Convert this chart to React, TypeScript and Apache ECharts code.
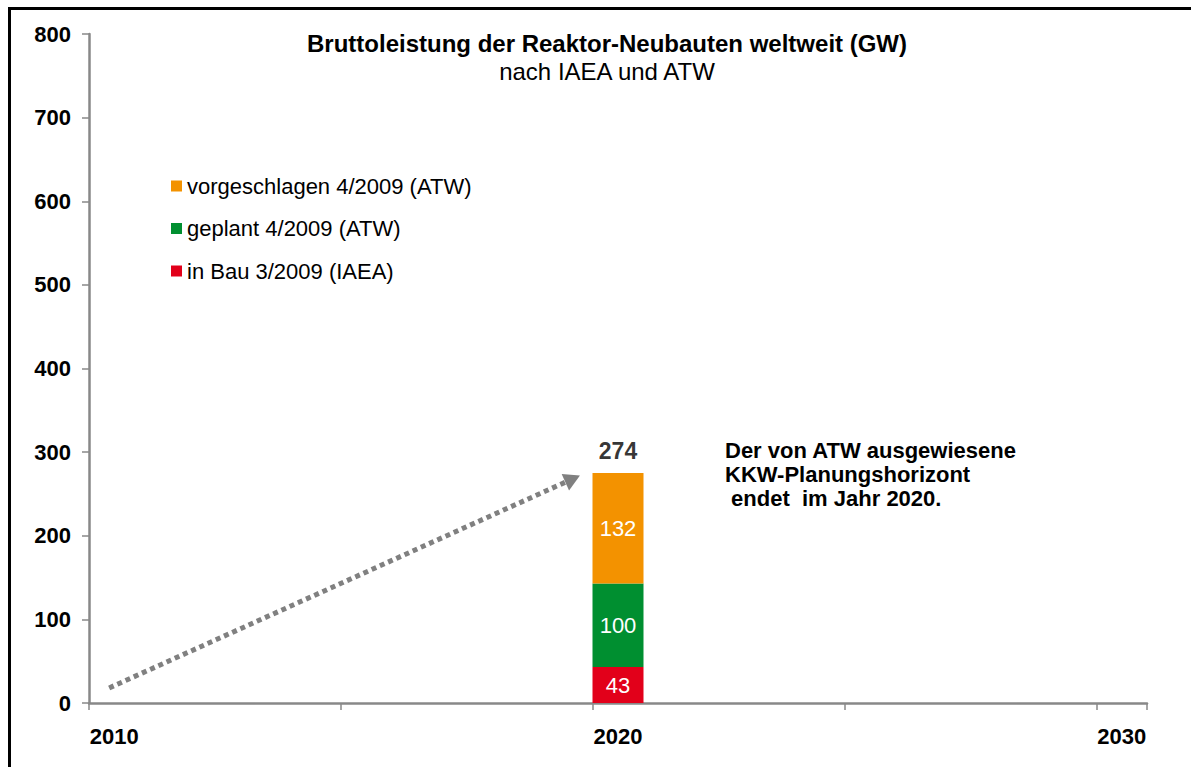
import React, { useEffect, useRef } from "react";
import * as echarts from "echarts";

const seriesNames = ["in Bau 3/2009 (IAEA)", "geplant 4/2009 (ATW)", "vorgeschlagen 4/2009 (ATW)"];
const seriesColors = ["#E2001A", "#008F30", "#F39200"];
const years = Array.from({ length: 21 }, (_, i) => String(2010 + i));
const barYear = "2020";
const inBau = [43];
const geplant = [100];
const vorgeschlagen = [132];
const totals = [274];
const trendStart = [2010.4, 18];
const trendEnd = [2019.6, 268];
const yTicks = [0, 100, 200, 300, 400, 500, 600, 700, 800];
const xLabeled = ["2010", "2020", "2030"];

const FONT = "'Liberation Sans', Arial, sans-serif";

export default function App() {
  const ref = useRef<HTMLDivElement>(null);
  useEffect(() => {
    if (!ref.current) return;
    const chart = echarts.init(ref.current, null, { renderer: "svg" });
    const mk = (vals: number[]) => years.map((y) => (y === barYear ? vals[0] : "-"));
    const segVals = [inBau, geplant, vorgeschlagen];
    const barSeries = seriesNames.map((name, k) => ({
      name,
      type: "bar",
      stack: "total",
      barWidth: 51,
      data: mk(segVals[k]),
      itemStyle: { color: seriesColors[k] },
      label: {
        show: true,
        position: "inside",
        color: "#ffffff",
        fontSize: 22,
        fontFamily: FONT,
      },
    }));
    chart.setOption({
      animation: false,
      backgroundColor: "#ffffff",
      textStyle: { fontFamily: FONT },
      grid: { left: 89, top: 34, right: 44, bottom: 64, containLabel: false },
      title: {
        text: "Bruttoleistung der Reaktor-Neubauten weltweit (GW)",
        subtext: "nach IAEA und ATW",
        left: 602,
        textAlign: "center",
        top: 26,
        itemGap: 4,
        textStyle: { fontSize: 24, fontWeight: "bold", color: "#000", fontFamily: FONT },
        subtextStyle: { fontSize: 24, color: "#000", fontFamily: FONT },
      },
      legend: {
        orient: "vertical",
        left: 166,
        top: 170,
        itemWidth: 11,
        itemHeight: 11,
        itemGap: 20.5,
        icon: "rect",
        data: [seriesNames[2], seriesNames[1], seriesNames[0]],
        textStyle: { fontSize: 22, lineHeight: 22, color: "#000", fontFamily: FONT, padding: [0, 0, 0, 0] },
      },
      xAxis: [
        {
          type: "category",
          data: years,
          boundaryGap: true,
          axisLine: { show: true, lineStyle: { color: "#888888", width: 2.5 } },
          axisTick: {
            show: true,
            length: 7,
            alignWithLabel: false,
            interval: (i: number) => i % 5 === 0,
            lineStyle: { color: "#888888", width: 1.5 },
          },
          splitLine: { show: false },
          axisLabel: {
            margin: 22,
            fontSize: 22,
            fontWeight: "bold",
            color: "#000",
            fontFamily: FONT,
            interval: 0,
            formatter: (v: string) => (xLabeled.includes(v) ? v : ""),
          },
        },
        {
          type: "value",
          min: 2010,
          max: 2031,
          show: false,
        },
      ],
      yAxis: {
        type: "value",
        min: yTicks[0],
        max: yTicks[yTicks.length - 1],
        interval: 100,
        axisLine: { show: true, lineStyle: { color: "#888888", width: 2.5 } },
        axisTick: { show: true, length: 7, lineStyle: { color: "#888888", width: 1.5 } },
        splitLine: { show: false },
        axisLabel: {
          margin: 18,
          fontSize: 22,
          fontWeight: "bold",
          color: "#000",
          fontFamily: FONT,
        },
      },
      series: [
        ...barSeries,
        {
          name: "total",
          type: "scatter",
          symbolSize: 0,
          data: years.map((y) => (y === barYear ? totals[0] : "-")),
          label: {
            show: true,
            position: "top",
            distance: 11,
            fontSize: 23,
            fontWeight: "bold",
            color: "#000",
            fontFamily: FONT,
          },
          z: 5,
        },
        {
          name: "trend",
          type: "line",
          xAxisIndex: 1,
          data: [],
          markLine: {
            silent: true,
            symbol: ["none", "triangle"],
            symbolSize: [18, 16],
            label: { show: false },
            lineStyle: { color: "#808080", width: 5, type: [5, 4] },
            data: [[{ coord: trendStart }, { coord: trendEnd }]],
          },
        },
      ],
      graphic: [
        {
          type: "rect",
          shape: { x: 9.5, y: 8.5, width: 1400, height: 900 },
          style: { fill: "none", stroke: "#000", lineWidth: 3 },
          silent: true,
        },
        {
          type: "text",
          left: 725,
          top: 438,
          style: {
            text: "Der von ATW ausgewiesene\nKKW-Planungshorizont\n endet  im Jahr 2020.",
            fontSize: 22,
            lineHeight: 24,
            fontWeight: "bold",
            fill: "#000",
            fontFamily: FONT,
          },
        },
      ],
    });
    return () => chart.dispose();
  }, []);
  return (
    <div
      ref={ref}
      style={{ position: "fixed", left: 0, top: 0, width: 1191, height: 767, background: "#fff" }}
    />
  );
}
